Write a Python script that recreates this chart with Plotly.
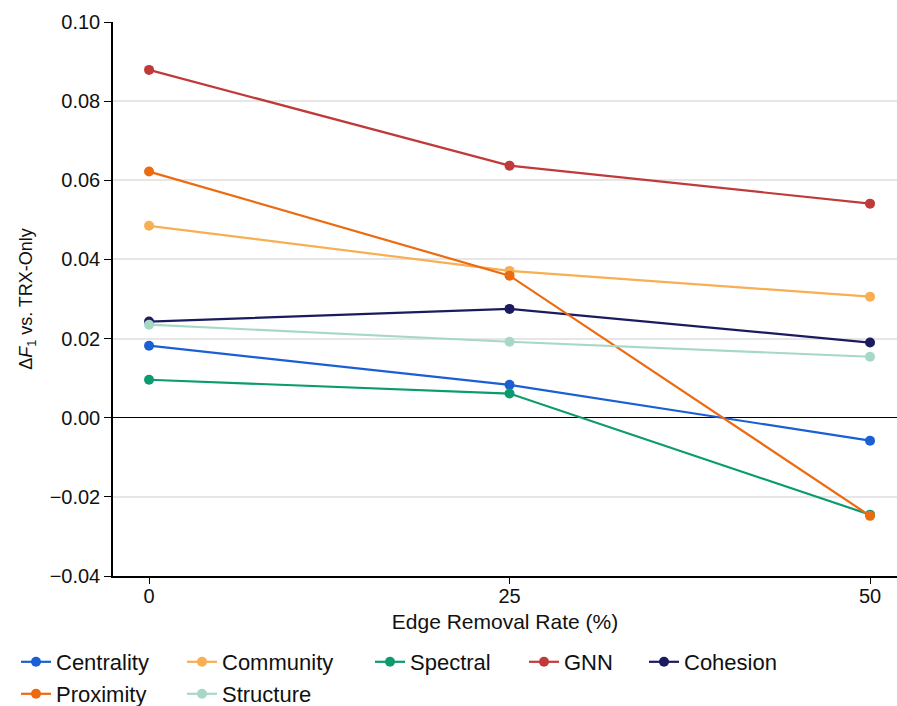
import plotly.graph_objects as go

rates = [0, 25, 50]
series_names = ["Centrality", "Community", "Spectral", "GNN", "Cohesion", "Proximity", "Structure"]
centrality = [0.0182, 0.0083, -0.0058]
community = [0.0485, 0.0371, 0.0306]
spectral = [0.0096, 0.0061, -0.0245]
gnn = [0.0879, 0.0637, 0.0541]
cohesion = [0.0243, 0.0275, 0.0190]
proximity = [0.0622, 0.0359, -0.0248]
structure = [0.0235, 0.0192, 0.0154]
y_ticks = [-0.04, -0.02, 0.00, 0.02, 0.04, 0.06, 0.08, 0.10]
y_tick_labels = ["−0.04", "−0.02", "0.00", "0.02", "0.04", "0.06", "0.08", "0.10"]

values = [centrality, community, spectral, gnn, cohesion, proximity, structure]
colors = ["#1A5FD3", "#F8AE52", "#0C9B6E", "#C13A3A", "#1C1B5E", "#EC6A10", "#A7D8C6"]

# legend entry placement (pixels in the 897x706 page): left x of symbol, row center y
W, H = 897, 706
legend_pos = [(21, 662), (187, 662), (375, 662), (529, 662), (649, 662), (21, 694), (187, 694)]

FONT = "Liberation Sans, Arial, sans-serif"
fig = go.Figure()
layout_legends = {}
for i, (name, vals, c) in enumerate(zip(series_names, values, colors)):
    key = "legend" if i == 0 else f"legend{i+1}"
    fig.add_trace(go.Scatter(
        x=rates, y=vals, name=name, mode="lines+markers",
        line=dict(color=c, width=2.2), marker=dict(color=c, size=10),
        legend=key,
    ))
    px, py = legend_pos[i]
    layout_legends[key] = dict(
        xref="container", yref="container",
        x=(px - 5) / W, y=1 - py / H, xanchor="left", yanchor="middle",
        orientation="h", bgcolor="rgba(0,0,0,0)", borderwidth=0,
        font=dict(family=FONT, size=22, color="#111"), itemwidth=30,
    )

fig.update_layout(
    width=W, height=H,
    margin=dict(l=113, r=0, t=22, b=130, autoexpand=False),
    paper_bgcolor="white", plot_bgcolor="white",
    font=dict(family=FONT, size=20, color="#111"),
    showlegend=True,
    xaxis=dict(
        range=[-2.5, 51.87], tickvals=rates, ticktext=["0", "25", "50"],
        showgrid=False, zeroline=False, showline=True, linecolor="black", linewidth=1.5,
        ticks="outside", ticklen=6, tickcolor="black", tickwidth=1.2,
        ticklabelstandoff=-5,
        title=dict(text="Edge Removal Rate (%)", font=dict(size=21), standoff=9),
        tickfont=dict(size=20), automargin=False,
    ),
    yaxis=dict(
        range=[-0.04, 0.10], tickvals=y_ticks, ticktext=y_tick_labels,
        showgrid=True, gridcolor="#E6E6E6", gridwidth=2,
        zeroline=True, zerolinecolor="black", zerolinewidth=1.3,
        showline=True, linecolor="black", linewidth=1.5,
        ticks="outside", ticklen=7, tickcolor="black", tickwidth=1.2,
        title=dict(text="Δ<i>F</i><sub>1</sub> vs. TRX-Only", font=dict(size=18), standoff=12),
        tickfont=dict(size=20), automargin=False,
    ),
    **layout_legends,
)

fig.write_html("out.html", config={"displayModeBar": False},
               post_script="document.body.style.margin='0';document.body.style.overflow='hidden';")
